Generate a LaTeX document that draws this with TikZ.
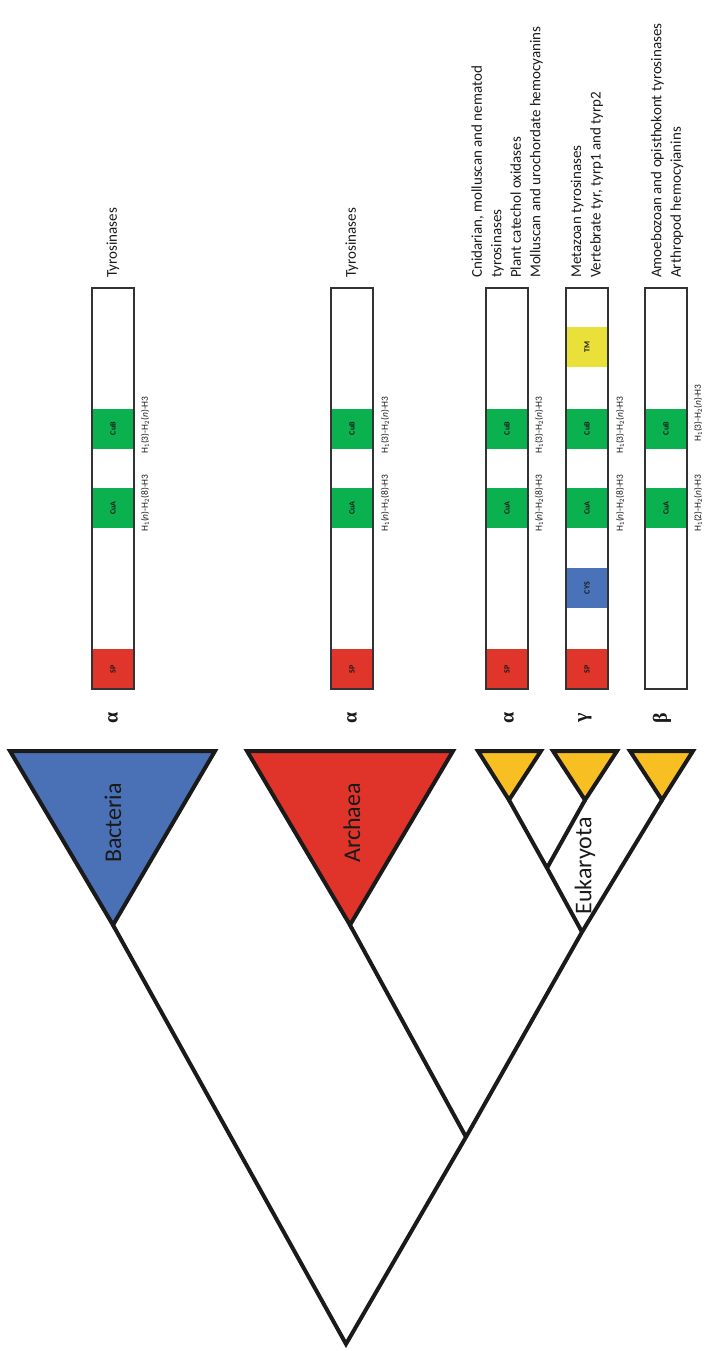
\documentclass[tikz,border=0pt]{standalone}
\usepackage{fontspec}
\setmainfont{Carlito}
\newfontfamily\greekfont{Liberation Serif}
\definecolor{bacblue}{HTML}{4A70B5}
\definecolor{arcred}{HTML}{E0342A}
\definecolor{eukyel}{HTML}{F8BF22}
\definecolor{cugreen}{HTML}{0BB04F}
\definecolor{spred}{HTML}{E0352B}
\definecolor{cysblue}{HTML}{4A72B8}
\definecolor{tmyel}{HTML}{EAE03A}
\definecolor{ink}{HTML}{1A1A1A}
\newcommand\hlabA{H\textsubscript{1}(\textit{n})-H\textsubscript{2}(8)-H3}
\newcommand\hlabB{H\textsubscript{1}(3)-H\textsubscript{2}(\textit{n})-H3}
\newcommand\hlabC{H\textsubscript{1}(2)-H\textsubscript{2}(\textit{n})-H3}
\begin{document}
\begin{tikzpicture}[x=1pt,y=-1pt,
  branch/.style={draw=ink, line width=4pt, line join=miter},
  clade/.style={draw=ink, line width=4pt, line join=miter},
  bigl/.style={rotate=90, inner sep=0pt, text=ink, font=\fontsize{24}{28}\selectfont},
  greekl/.style={rotate=90, inner sep=0pt, text=ink, font=\greekfont\bfseries\fontsize{20}{22}\selectfont},
  desc/.style={rotate=90, anchor=west, align=left, inner sep=0pt, text=ink, font=\fontsize{15}{19.5}\selectfont},
  barbox/.style={rectangle, fill=white, draw=none, minimum width=42pt, minimum height=401pt, inner sep=0pt},
  barline/.style={draw=black!80, line width=2pt},
  dom/.style={rectangle, rotate=90, inner sep=0pt, minimum width=40pt, minimum height=40pt, text=ink, font=\bfseries\fontsize{8}{9}\selectfont},
  hlab/.style={rotate=90, inner sep=0pt, text=ink, font=\fontsize{9.5}{11}\selectfont}
]
\useasboundingbox (0,0) rectangle (705,1351);

% ---- tree coordinates
\coordinate (R) at (346,1344);
\coordinate (N1) at (466,1137);
\coordinate (E) at (582,932);
\coordinate (N2) at (547,868);
\coordinate (Bap) at (113,925);
\coordinate (Bl) at (10,751);
\coordinate (Br) at (215,751);
\coordinate (Aap) at (350,925);
\coordinate (Al) at (247,751);
\coordinate (Ar) at (453,751);
\coordinate (YAap) at (509,800);
\coordinate (YAl) at (478,751);
\coordinate (YAr) at (541,751);
\coordinate (YGap) at (585,800);
\coordinate (YGl) at (553,751);
\coordinate (YGr) at (617,751);
\coordinate (YBap) at (662,800);
\coordinate (YBl) at (630,751);
\coordinate (YBr) at (693,751);

% ---- branches
\draw[branch] (Bap) -- (R) -- (N1) -- (E) -- (YBap);
\draw[branch] (Aap) -- (N1);
\draw[branch] (E) -- (N2) -- (YAap);
\draw[branch] (N2) -- (YGap);

% ---- collapsed clades
\draw[clade, fill=bacblue] (Bl) -- (Br) -- (Bap) -- cycle;
\draw[clade, fill=arcred] (Al) -- (Ar) -- (Aap) -- cycle;
\draw[clade, fill=eukyel] (YAl) -- (YAr) -- (YAap) -- cycle;
\draw[clade, fill=eukyel] (YGl) -- (YGr) -- (YGap) -- cycle;
\draw[clade, fill=eukyel] (YBl) -- (YBr) -- (YBap) -- cycle;

\node[bigl] (lbac) at (113,823) {Bacteria};
\node[bigl] (larc) at (352,823) {Archaea};
\node[bigl] (leuk) at (585,866) {Eukaryota};

% ---- greek labels
\node[greekl] (g1) at (113,718) {α};
\node[greekl] (g2) at (352,718) {α};
\node[greekl] (g3) at (509,718) {α};
\node[greekl] (g4) at (585,718) {γ};
\node[greekl] (g5) at (662,718) {β};

% ---- domain bars
\node[barbox] (b1) at (113,488.5) {};
\node[barbox] (b2) at (352,488.5) {};
\node[barbox] (b3) at (507,488.5) {};
\node[barbox] (b4) at (587,488.5) {};
\node[barbox] (b5) at (666,488.5) {};

\node[dom, fill=spred] (sp1) at (113,669) {SP};
\node[dom, fill=cugreen] (ca1) at (113,508) {CuA};
\node[dom, fill=cugreen] (cb1) at (113,428.5) {CuB};

\node[dom, fill=spred] (sp2) at (352,669) {SP};
\node[dom, fill=cugreen] (ca2) at (352,508) {CuA};
\node[dom, fill=cugreen] (cb2) at (352,428.5) {CuB};

\node[dom, fill=spred] (sp3) at (507,669) {SP};
\node[dom, fill=cugreen] (ca3) at (507,508) {CuA};
\node[dom, fill=cugreen] (cb3) at (507,428.5) {CuB};

\node[dom, fill=spred] (sp4) at (587,669) {SP};
\node[dom, fill=cysblue] (cy4) at (587,588) {CYS};
\node[dom, fill=cugreen] (ca4) at (587,508) {CuA};
\node[dom, fill=cugreen] (cb4) at (587,428.5) {CuB};
\node[dom, fill=tmyel] (tm4) at (587,347) {TM};

\node[dom, fill=cugreen] (ca5) at (666,508) {CuA};
\node[dom, fill=cugreen] (cb5) at (666,428.5) {CuB};

\foreach \b in {b1,b2,b3,b4,b5}
  \draw[barline] (\b.north west) rectangle (\b.south east);

% ---- histidine motifs
\node[hlab] (h1a) at (145,503) {\hlabA};
\node[hlab] (h1b) at (145,425) {\hlabB};
\node[hlab] (h2a) at (385,503) {\hlabA};
\node[hlab] (h2b) at (385,425) {\hlabB};
\node[hlab] (h3a) at (539,503) {\hlabA};
\node[hlab] (h3b) at (539,425) {\hlabB};
\node[hlab] (h4a) at (620,503) {\hlabA};
\node[hlab] (h4b) at (620,425) {\hlabB};
\node[hlab] (h5a) at (698,503) {\hlabC};
\node[hlab] (h5b) at (698,413) {\hlabB};

% ---- descriptions
\node[desc] (d1) at (113,278) {Tyrosinases};
\node[desc] (d2) at (352,278) {Tyrosinases};
\node[desc] (d3) at (507,278) {Cnidarian, molluscan and nematod\\tyrosinases\\Plant catechol oxidases\\Molluscan and urochordate hemocyanins};
\node[desc] (d4) at (587,278) {Metazoan tyrosinases\\Vertebrate tyr, tyrp1 and tyrp2};
\node[desc] (d5) at (667,278) {Amoebozoan and opisthokont tyrosinases\\Arthropod hemocyianins};
\end{tikzpicture}
\end{document}
